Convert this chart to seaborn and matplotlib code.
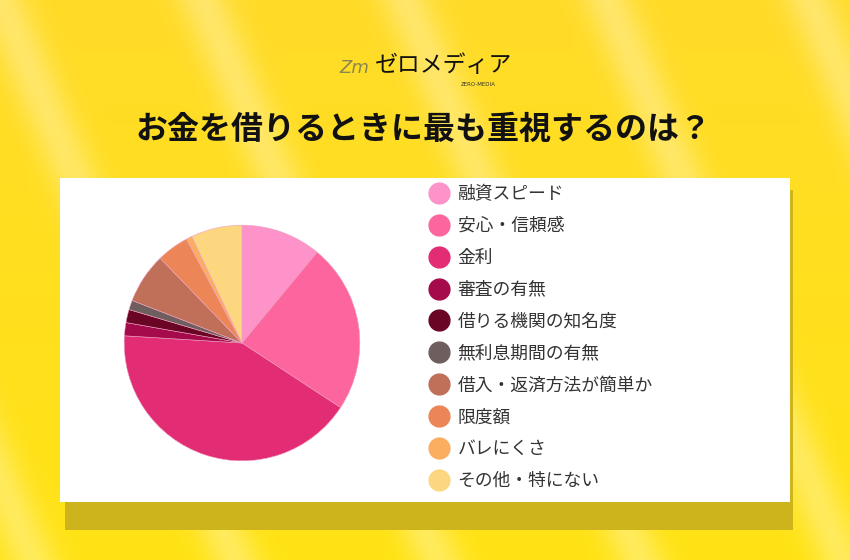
import numpy as np
import seaborn as sns
import matplotlib.pyplot as plt
from matplotlib.patches import Rectangle
from matplotlib.lines import Line2D

# data (share of answers, %)
labels = ["融資スピード", "安心・信頼感", "金利", "審査の有無", "借りる機関の知名度",
          "無利息期間の有無", "借入・返済方法が簡単か", "限度額", "バレにくさ", "その他・特にない"]
shares = [11.0, 23.2, 41.7, 1.8, 1.8, 1.3, 6.9, 4.4, 0.8, 7.0]
slice_colors = ["#fd93c9", "#fc659d", "#e22d74", "#a50a4a", "#6b0526",
                "#6e5f5e", "#c06f58", "#ec8657", "#fbad60", "#fdd77f"]

title = "お金を借りるときに最も重視するのは？"

sns.set_style("white")
plt.rcParams['font.family'] = ['Noto Sans CJK JP', 'DejaVu Sans']

W, H = 850, 560
fig = plt.figure(figsize=(W / 100, H / 100), dpi=100)

# yellow background with soft diagonal stripes
bg = fig.add_axes([0, 0, 1, 1], zorder=0)
yy, xx = np.mgrid[0:H, 0:W]
base = np.zeros((H, W, 3))
base[..., 0] = 1.0
base[..., 1] = 0.86 + 0.03 * (yy / H)
base[..., 2] = 0.16 - 0.08 * (yy / H)
u = (xx - 0.42 * yy) / W
stripe = 0.5 + 0.5 * np.cos(2 * np.pi * u * 4.2)
light = np.clip(stripe, 0, 1) ** 6 * 0.3
img = base + (1 - base) * light[..., None]
bg.imshow(np.clip(img, 0, 1), extent=[0, W, 0, H], origin="upper", aspect="auto")
bg.set_xlim(0, W)
bg.set_ylim(0, H)
bg.axis("off")

# card shadow + white card
bg.add_patch(Rectangle((65, H - 530), 728, 340, color="#cdb41c", lw=0, zorder=2))
bg.add_patch(Rectangle((60, H - 502), 730, 324, color="white", lw=0, zorder=3))

# logo
bg.text(354, H - 68, "Zm", fontsize=13, color="#8a8650", style="italic",
        ha="center", va="center", zorder=4, family=['DejaVu Sans'])
bg.text(444, H - 66, "ゼロメディア", fontsize=16.5, color="#111111",
        ha="center", va="center", zorder=4, style="italic")
bg.text(478, H - 84, "ZERO-MEDIA", fontsize=4, color="#333333",
        ha="center", va="center", zorder=4, family=['DejaVu Sans'])

# title
bg.text(423, H - 130, title, fontsize=23, fontweight="bold", color="#111111",
        ha="center", va="center", zorder=4)

# pie
cx, cy, r = 242, 343, 119
ax = fig.add_axes([(cx - r) / W, (H - cy - r) / H, 2 * r / W, 2 * r / H], zorder=5)
ax.pie(shares, colors=slice_colors, startangle=90, counterclock=False,
       wedgeprops=dict(linewidth=0.4, edgecolor="#f0a0c0"))
ax.set_xlim(-1.01, 1.01)
ax.set_ylim(-1.01, 1.01)
ax.set_aspect("equal")
ax.axis("off")

handles = [Line2D([], [], marker="o", linestyle="", markersize=15,
                  markerfacecolor=c, markeredgecolor=c) for c in slice_colors]
leg = fig.legend(handles, labels, loc="upper left", bbox_to_anchor=(414 / W, 1 - 171 / H),
                 frameon=False, fontsize=12.8, labelspacing=0.78, handletextpad=0.45,
                 handlelength=1.2, borderpad=0.3)
for t in leg.get_texts():
    t.set_color("#333333")
leg.set_zorder(6)

fig.savefig("out.png", dpi=100)
